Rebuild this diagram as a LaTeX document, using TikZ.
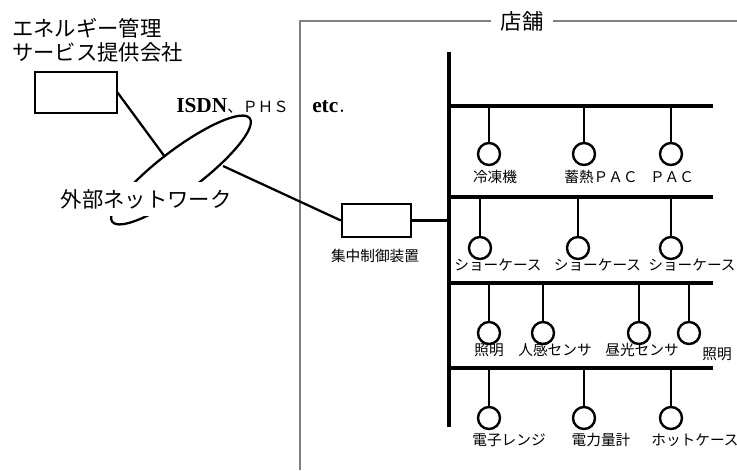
\documentclass[tikz,border=0pt]{standalone}
\usepackage{fontspec}
\setmainfont{Liberation Serif}
\newfontfamily\jpfont{Noto Sans CJK JP}

\tikzset{
  bus/.style={line width=2.3pt},
  wire/.style={line width=1.9pt},
  dev/.style={draw, circle, line width=1.8pt, minimum size=16.5pt, inner sep=0pt},
  lbl/.style={font=\jpfont\fontsize{11}{13}\selectfont, inner sep=0pt},
  big/.style={font=\jpfont\fontsize{16}{18}\selectfont, inner sep=0pt},
}

\begin{document}
\begin{tikzpicture}[x=0.75pt,y=0.75pt,yscale=-1,xscale=1]
\useasboundingbox (0,0) rectangle (737,470);

% Store frame
\draw [color={rgb, 255:red, 128; green, 128; blue, 128 }, line width=1.1pt] (300,470) |- (737,21);
\draw (522,21) node [big, fill=white, inner xsep=7pt, inner ysep=2pt] (store) {店舗};

% Energy management company
\draw (12,40) node [big, anchor=west, align=left] (comptxt) {エネルギー管理\\サービス提供会社};
\draw (76,92.5) node [draw, line width=0.8pt, minimum width=61.5pt, minimum height=30.75pt] (comp) {};

% External network
\draw [line width=1.7pt, rotate around={-37:(181,170)}] (181,170) ellipse [x radius=86, y radius=21];
\draw (146,199) node [big, fill=white, inner ysep=5pt] (net) {外部ネットワーク};
\coordinate (netin) at (165,157);
\coordinate (netout) at (223,166);
\draw [line width=1.7pt] (comp.east) -- (netin);

% Lines
\draw (176,113) node [anchor=base west, inner sep=0pt, font=\fontsize{16}{18}\selectfont] (isdn) {\textbf{ISDN}{\jpfont\fontsize{11.5}{14}\selectfont 、ＰＨＳ}};
\draw (312,113) node [anchor=base west, inner sep=0pt, font=\fontsize{16}{18}\selectfont] (etc) {\textbf{etc}{\jpfont\fontsize{11.5}{14}\selectfont ．}};

% Central controller
\draw (376.5,220.5) node [draw, line width=1.7pt, minimum width=51.75pt, minimum height=24.75pt] (ctrl) {};
\draw (375,256) node [lbl] (ctrltxt) {集中制御装置};
\draw [line width=1.7pt] (netout) -- (ctrl.west);

% Bus
\coordinate (bustop) at (449,52);
\coordinate (busbot) at (449,427);
\coordinate (bus1) at (449,106);
\coordinate (bus2) at (449,197);
\coordinate (bus3) at (449,283);
\coordinate (bus4) at (449,368);
\draw [bus] (bustop) -- (busbot);
\draw [bus] (bus1) -- +(264,0);
\draw [bus] (bus2) -- +(264,0);
\draw [bus] (bus3) -- +(264,0);
\draw [bus] (bus4) -- +(264,0);
\draw [bus] (ctrl.east) -- (ctrl.east -| bus1);

% Row 1
\draw (489,154) node [dev] (frz) {};
\draw (584,154) node [dev] (tpac) {};
\draw (671,154) node [dev] (pac) {};
\draw [wire] (frz) -- (frz |- bus1);
\draw [wire] (tpac) -- (tpac |- bus1);
\draw [wire] (pac) -- (pac |- bus1);
\draw (495,177) node [lbl] (frzlbl) {冷凍機};
\draw (601,177) node [lbl] (tpaclbl) {蓄熱ＰＡＣ};
\draw (672,177) node [lbl] (paclbl) {ＰＡＣ};

% Row 2
\draw (480,248) node [dev] (sca) {};
\draw (578,248) node [dev] (scb) {};
\draw (671,248) node [dev] (scc) {};
\draw [wire] (sca) -- (sca |- bus2);
\draw [wire] (scb) -- (scb |- bus2);
\draw [wire] (scc) -- (scc |- bus2);
\draw (498,265) node [lbl] (scalbl) {ショーケース};
\draw (597.5,265) node [lbl] (scblbl) {ショーケース};
\draw (692,265) node [lbl] (scclbl) {ショーケース};

% Row 3
\draw (489,333) node [dev] (lta) {};
\draw (543,333) node [dev] (pir) {};
\draw (639,333) node [dev] (dls) {};
\draw (689,333) node [dev] (ltb) {};
\draw [wire] (lta) -- (lta |- bus3);
\draw [wire] (pir) -- (pir |- bus3);
\draw [wire] (dls) -- (dls |- bus3);
\draw [wire] (ltb) -- (ltb |- bus3);
\draw (489,350) node [lbl] (ltalbl) {照明};
\draw (555,350) node [lbl] (pirlbl) {人感センサ};
\draw (642,350) node [lbl] (dlslbl) {昼光センサ};
\draw (717,354) node [lbl] (ltblbl) {照明};

% Row 4
\draw (489,418) node [dev] (mwo) {};
\draw (584,418) node [dev] (wh) {};
\draw (671,418) node [dev] (hot) {};
\draw [wire] (mwo) -- (mwo |- bus4);
\draw [wire] (wh) -- (wh |- bus4);
\draw [wire] (hot) -- (hot |- bus4);
\draw (509,440) node [lbl] (mwolbl) {電子レンジ};
\draw (601,440) node [lbl] (whlbl) {電力量計};
\draw (695,440) node [lbl] (hotlbl) {ホットケース};

\end{tikzpicture}
\end{document}
